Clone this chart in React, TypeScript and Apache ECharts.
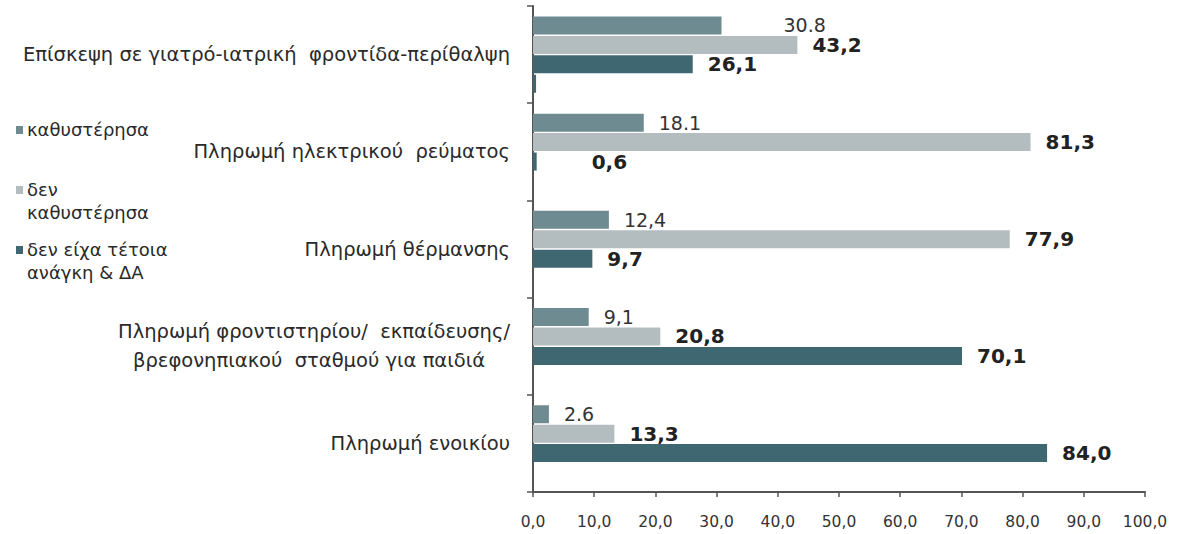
import React, { useEffect, useRef } from "react";
import * as echarts from "echarts";

const categories = [
  "Επίσκεψη σε γιατρό-ιατρική  φροντίδα-περίθαλψη",
  "Πληρωμή ηλεκτρικού  ρεύματος",
  "Πληρωμή θέρμανσης",
  "Πληρωμή φροντιστηρίου/  εκπαίδευσης/\nβρεφονηπιακού  σταθμού για παιδιά    ",
  "Πληρωμή ενοικίου",
];

const seriesNames = ["καθυστέρησα", "δεν\nκαθυστέρησα", "δεν είχα τέτοια\nανάγκη & ΔΑ"];
const delayed = [30.8, 18.1, 12.4, 9.1, 2.6];
const delayedLabels = ["30.8", "18.1", "12,4", "9,1", "2.6"];
const notDelayed = [43.2, 81.3, 77.9, 20.8, 13.3];
const noNeed = [26.1, 0.6, 9.7, 70.1, 84.0];
const unlabeled = [0.5, 0, 0, 0, 0];

const xMin = 0;
const xMax = 100;
const xStep = 10;

const colors = ["#6e8b92", "#b3bdc0", "#3e6772"];

const FONT = "DejaVu Sans";

export default function App() {
  const ref = useRef<HTMLDivElement>(null);

  useEffect(() => {
    document.body.style.margin = "0";
    const chart = echarts.init(ref.current!, null, { renderer: "svg" });

    const comma = (v: number) => v.toFixed(1).replace(".", ",");

    const baseLabel = {
      show: true,
      position: "right" as const,
      distance: 15,
      fontFamily: FONT,
      fontSize: 20,
      color: "#222",
    };

    const legendItems = [
      { y: 130, color: colors[0], text: seriesNames[0] },
      { y: 190, color: colors[1], text: seriesNames[1] },
      { y: 250, color: colors[2], text: seriesNames[2] },
    ];

    const graphic: any[] = [];
    legendItems.forEach((it) => {
      graphic.push({
        type: "rect",
        left: 16,
        top: it.y - 4,
        shape: { width: 7, height: 8 },
        style: { fill: it.color },
      });
      graphic.push({
        type: "text",
        left: 27,
        top: it.y - 12,
        style: {
          text: it.text,
          fontFamily: FONT,
          fontSize: 18,
          lineHeight: 23,
          fill: "#2a2a2a",
        },
      });
    });

    chart.setOption({
      animation: false,
      backgroundColor: "#fff",
      grid: { left: 533, right: 37, top: 6, bottom: 42, containLabel: false },
      xAxis: {
        type: "value",
        min: xMin,
        max: xMax,
        interval: xStep,
        splitLine: { show: false },
        axisLine: { show: true, lineStyle: { color: "#555", width: 2 } },
        axisTick: { show: true, length: 5, lineStyle: { color: "#555", width: 1.5 } },
        axisLabel: {
          margin: 22,
          fontFamily: FONT,
          fontSize: 15.5,
          color: "#333",
          formatter: (v: number) => comma(v),
        },
      },
      yAxis: {
        type: "category",
        data: categories,
        inverse: true,
        axisLine: { show: true, lineStyle: { color: "#555", width: 2 } },
        axisTick: { show: true, length: 6, lineStyle: { color: "#555", width: 1.5 } },
        axisLabel: {
          margin: 23,
          fontFamily: FONT,
          fontSize: 19.5,
          lineHeight: 29,
          color: "#2a2a2a",
          align: "right",
        },
      },
      graphic,
      series: [
        {
          name: seriesNames[0],
          type: "bar",
          barWidth: 18,
          barGap: "8%",
          itemStyle: { color: colors[0] },
          data: delayed.map((v, i) =>
            i === 0 ? { value: v, label: { offset: [47, 0] } } : v
          ),
          label: {
            ...baseLabel,
            fontSize: 19,
            color: "#333",
            formatter: (p: any) => delayedLabels[p.dataIndex],
          },
        },
        {
          name: seriesNames[1],
          type: "bar",
          barWidth: 18,
          barGap: "8%",
          itemStyle: { color: colors[1] },
          data: notDelayed,
          label: { ...baseLabel, fontWeight: "bold", formatter: (p: any) => comma(p.value) },
        },
        {
          name: seriesNames[2],
          type: "bar",
          barWidth: 18,
          barGap: "8%",
          itemStyle: { color: colors[2] },
          data: noNeed.map((v, i) =>
            i === 1 ? { value: v, label: { offset: [40, 0] } } : v
          ),
          label: { ...baseLabel, fontWeight: "bold", formatter: (p: any) => comma(p.value) },
        },
        {
          name: "",
          type: "bar",
          barWidth: 18,
          barGap: "8%",
          itemStyle: { color: colors[2] },
          data: unlabeled,
          label: { show: false },
        },
      ],
    });

    return () => chart.dispose();
  }, []);

  return <div ref={ref} style={{ width: 1182, height: 534 }} />;
}
